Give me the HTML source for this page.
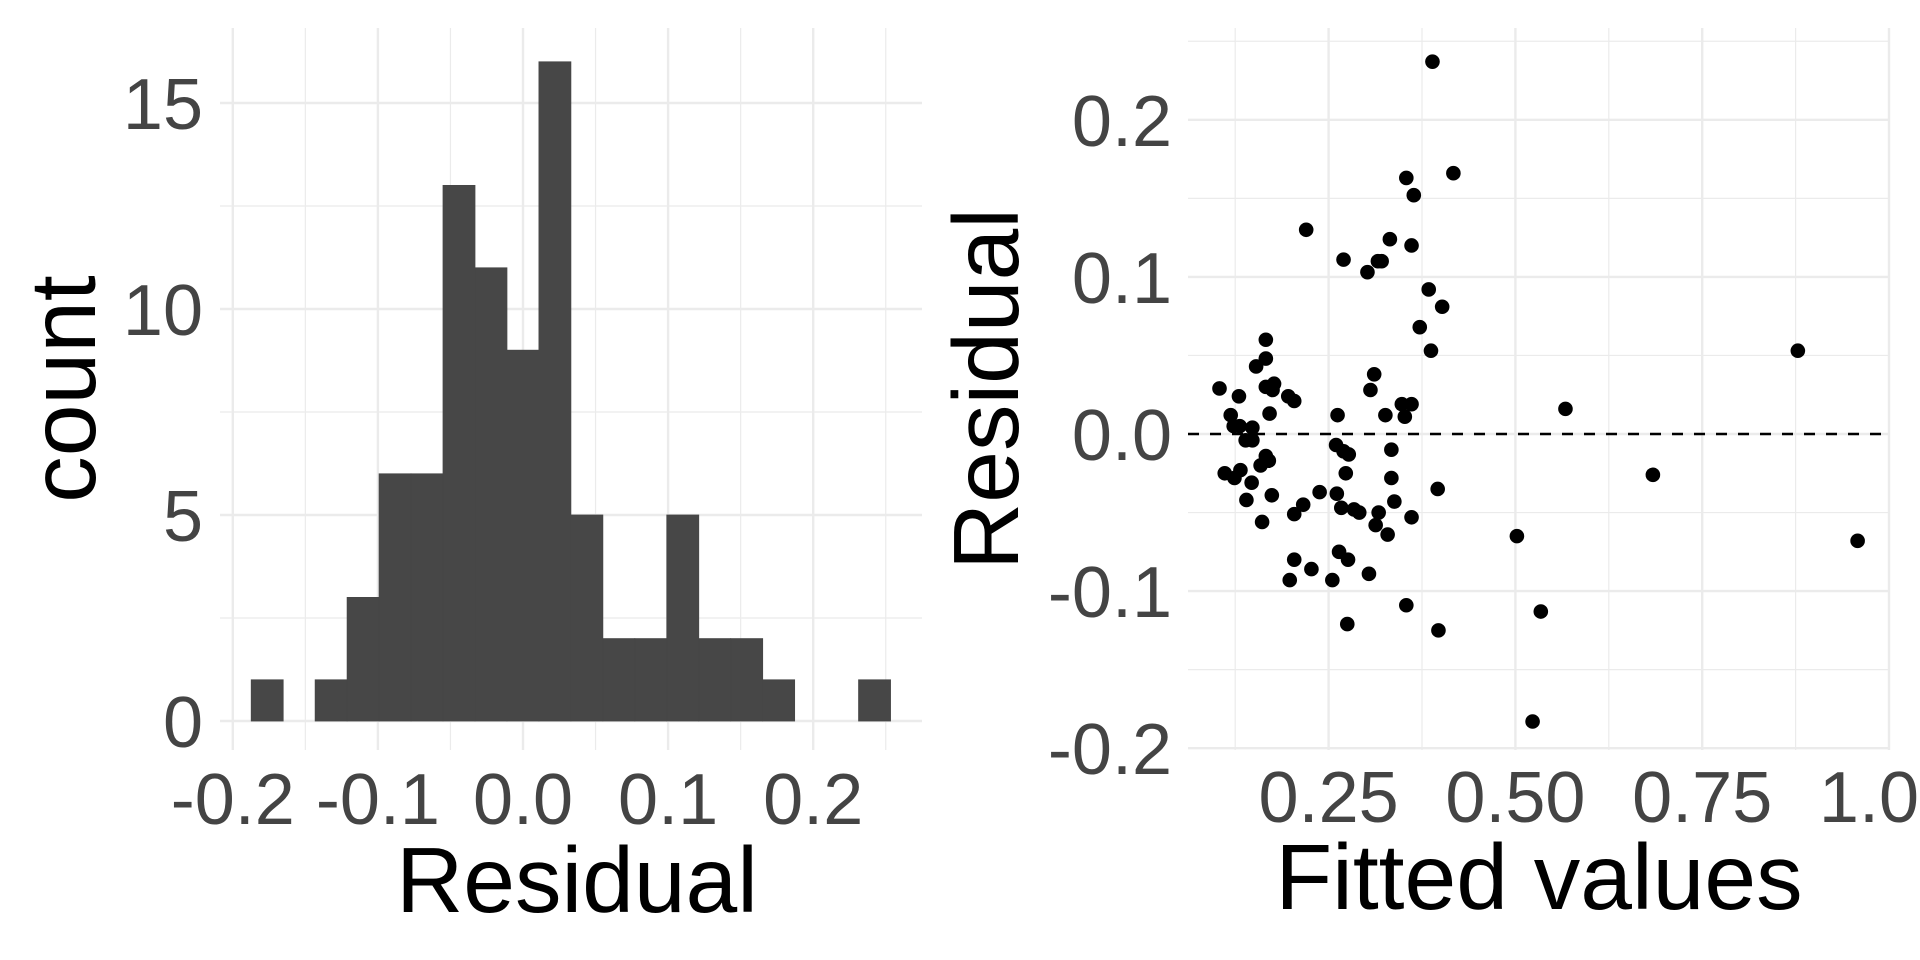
<!DOCTYPE html>
<html><head><meta charset="utf-8"><style>
html,body{margin:0;padding:0;background:#fff;}
svg{display:block;font-family:"Liberation Sans",Arial,sans-serif;}
</style></head><body>
<svg id="fig" width="1920" height="960" viewBox="0 0 1920 960">
<rect width="1920" height="960" fill="#fff"/>
<g id="left"></g>
<g id="right"></g>
</svg>
<script>
// Histogram data
const binStart = -0.1873;
const binWidth = 0.02203;
const binCounts = [1,0,1,3,6,6,13,11,9,16,5,2,2,5,2,2,1,0,0,1];
const histXTicks = [-0.2,-0.1,0.0,0.1,0.2];
const histXTickLabels = ["-0.2","-0.1","0.0","0.1","0.2"];
const histXMinor = [-0.15,-0.05,0.05,0.15,0.25];
const histYTicks = [0,5,10,15];
const histYMinor = [2.5,7.5,12.5];

// Scatter data
const fitted = [0.389,0.417,0.354,0.364,0.220,0.332,0.361,0.270,0.316,0.321,0.302,0.384,0.402,0.372,0.387,0.878,0.166,0.166,0.153,0.311,0.104,0.166,0.177,0.175,0.306,0.130,0.196,0.204,0.348,0.361,0.567,0.262,0.326,0.171,0.352,0.119,0.123,0.131,0.148,0.139,0.148,0.260,0.270,0.277,0.334,0.166,0.170,0.159,0.132,0.111,0.124,0.273,0.684,0.334,0.147,0.396,0.238,0.261,0.174,0.140,0.338,0.216,0.267,0.284,0.291,0.317,0.204,0.361,0.161,0.313,0.329,0.502,0.958,0.264,0.276,0.204,0.227,0.304,0.198,0.255,0.354,0.534,0.275,0.397,0.523];
const residuals = [0.237,0.166,0.163,0.152,0.130,0.124,0.120,0.111,0.110,0.110,0.103,0.092,0.081,0.068,0.053,0.053,0.060,0.048,0.043,0.038,0.029,0.030,0.032,0.028,0.028,0.024,0.024,0.021,0.019,0.019,0.016,0.012,0.012,0.013,0.011,0.012,0.005,0.005,0.004,-0.004,-0.004,-0.007,-0.011,-0.013,-0.010,-0.014,-0.017,-0.020,-0.023,-0.025,-0.028,-0.025,-0.026,-0.028,-0.031,-0.035,-0.037,-0.038,-0.039,-0.042,-0.043,-0.045,-0.047,-0.048,-0.050,-0.050,-0.051,-0.053,-0.056,-0.058,-0.064,-0.065,-0.068,-0.075,-0.080,-0.080,-0.086,-0.089,-0.093,-0.093,-0.109,-0.113,-0.121,-0.125,-0.183];
const scXTicks = [0.25,0.5,0.75,1.0];
const scXTickLabels = ["0.25","0.50","0.75","1.00"];
const scXMinor = [0.125,0.375,0.625,0.875];
const scYTicks = [-0.2,-0.1,0.0,0.1,0.2];
const scYTickLabels = ["-0.2","-0.1","0.0","0.1","0.2"];
const scYMinor = [-0.15,-0.05,0.05,0.15,0.25];

const NS = "http://www.w3.org/2000/svg";
function mk(parent, tag, attrs, text){
  const e = document.createElementNS(NS, tag);
  for (const k in attrs) e.setAttribute(k, attrs[k]);
  if (text !== undefined) e.textContent = text;
  parent.appendChild(e);
  return e;
}
const TICK = 72, TITLE = 93, TCOL = '#444';

// ---- Left histogram ----
const L = document.getElementById('left');
const hx = v => 523 + v * 1451;
const hy = v => 721 - v * 41.2;
const hTop = 28, hBot = 750, hLeft = 220, hRight = 922;
histYMinor.forEach(v => {
  const e = mk(L, 'line', {x1:hLeft, x2:hRight, y1:hy(v), y2:hy(v), stroke:'#ebebeb', 'stroke-width':1.2});
  
  
});
histXMinor.forEach(v => {
  const e = mk(L, 'line', {x1:hx(v), x2:hx(v), y1:hTop, y2:hBot, stroke:'#ebebeb', 'stroke-width':1.2});
  
  
});
histYTicks.forEach(v => {
  const e = mk(L, 'line', {x1:hLeft, x2:hRight, y1:hy(v), y2:hy(v), stroke:'#ebebeb', 'stroke-width':2.4});
  
  
  const t = mk(L, 'text', {x:203, y:hy(v)+26, 'text-anchor':'end', 'font-size':TICK, fill:TCOL}, String(v));
  
  
});
histXTicks.forEach((v,i) => {
  const e = mk(L, 'line', {x1:hx(v), x2:hx(v), y1:hTop, y2:hBot, stroke:'#ebebeb', 'stroke-width':2.4});
  
  
  const t = mk(L, 'text', {x:hx(v), y:824, 'text-anchor':'middle', 'font-size':TICK, fill:TCOL}, histXTickLabels[i]);
  
  
});
binCounts.forEach((c,i) => {
  if (c <= 0) return;
  const x0 = hx(binStart + i*binWidth), x1 = hx(binStart + (i+1)*binWidth);
  const r = mk(L, 'rect', {x:x0, y:hy(c), width:x1-x0, height:hy(0)-hy(c), fill:'#474747', stroke:'#474747', 'stroke-width':0.8});
  
  
});
let t1 = mk(L, 'text', {x:577, y:912, 'text-anchor':'middle', 'font-size':TITLE, fill:'#000'}, 'Residual');


let t2 = mk(L, 'text', {x:0, y:0, 'text-anchor':'middle', 'font-size':TITLE, fill:'#000', transform:'translate(95,389) rotate(-90)'}, 'count');



// ---- Right scatter ----
const R = document.getElementById('right');
const sx = v => 1328.6 + (v - 0.25) * 747.2;
const sy = v => 434 - v * 1571;
const sTop = 28, sBot = 750, sLeft = 1188, sRight = 1890;
scYMinor.forEach(v => {
  const e = mk(R, 'line', {x1:sLeft, x2:sRight, y1:sy(v), y2:sy(v), stroke:'#ebebeb', 'stroke-width':1.2});
  
  
});
scXMinor.forEach(v => {
  const e = mk(R, 'line', {x1:sx(v), x2:sx(v), y1:sTop, y2:sBot, stroke:'#ebebeb', 'stroke-width':1.2});
  
  
});
scYTicks.forEach((v,i) => {
  const e = mk(R, 'line', {x1:sLeft, x2:sRight, y1:sy(v), y2:sy(v), stroke:'#ebebeb', 'stroke-width':2.4});
  
  
  const t = mk(R, 'text', {x:1172, y:sy(v)+26, 'text-anchor':'end', 'font-size':TICK, fill:TCOL}, scYTickLabels[i]);
  
  
});
scXTicks.forEach((v,i) => {
  const e = mk(R, 'line', {x1:sx(v), x2:sx(v), y1:sTop, y2:sBot, stroke:'#ebebeb', 'stroke-width':2.4});
  
  
  const t = mk(R, 'text', {x:sx(v), y:822, 'text-anchor':'middle', 'font-size':TICK, fill:TCOL}, scXTickLabels[i]);
  
  
});
const zl = mk(R, 'line', {x1:sLeft, x2:sRight, y1:sy(0), y2:sy(0), stroke:'#000', 'stroke-width':2.4, 'stroke-dasharray':'11 11'});


fitted.forEach((f,i) => {
  const c = mk(R, 'circle', {cx:sx(f), cy:sy(residuals[i]), r:7.3, fill:'#000'});
  
  
});
let t3 = mk(R, 'text', {x:1539, y:909, 'text-anchor':'middle', 'font-size':TITLE, fill:'#000'}, 'Fitted values');


let t4 = mk(R, 'text', {x:0, y:0, 'text-anchor':'middle', 'font-size':TITLE, fill:'#000', transform:'translate(1018,389) rotate(-90)'}, 'Residual');


</script>
</body></html>
